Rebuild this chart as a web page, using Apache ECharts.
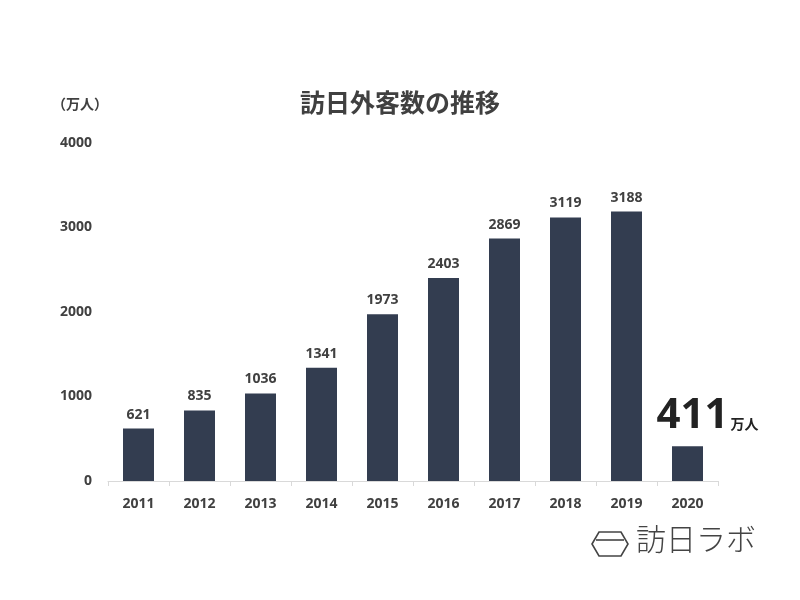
<!DOCTYPE html>
<html><head><meta charset="utf-8">
<script src="https://cdn.jsdelivr.net/npm/echarts@6/dist/echarts.min.js"></script>
<style>html,body{margin:0;background:#fff}#c{width:800px;height:600px}</style>
</head><body><div id="c"></div>
<script>
const categories = ['2011','2012','2013','2014','2015','2016','2017','2018','2019','2020'];
const values = [621,835,1036,1341,1973,2403,2869,3119,3188,411];
const yTicks = [0,1000,2000,3000,4000];
const F = '"Open Sans","Noto Sans CJK JP",sans-serif';
const chart = echarts.init(document.getElementById('c'));
chart.setOption({
  backgroundColor:'#fff',
  animation:false,
  title:{text:'訪日外客数の推移',left:'center',top:85,textStyle:{fontFamily:'"Noto Sans CJK JP"',fontSize:25,fontWeight:'bold',color:'#404040'}},
  grid:{left:108,right:82,top:143,bottom:119},
  xAxis:{type:'category',data:categories,
    axisLine:{lineStyle:{color:'#d9d9d9'}},axisTick:{show:true,lineStyle:{color:'#d9d9d9'}},
    axisLabel:{fontFamily:F,fontSize:14,fontWeight:'bold',color:'#404040',margin:16}},
  yAxis:{type:'value',min:yTicks[0],max:yTicks[yTicks.length-1],interval:1000,
    name:'（万人）',nameLocation:'end',nameGap:32,nameTextStyle:{fontFamily:'"Noto Sans CJK JP"',fontSize:14,fontWeight:'bold',color:'#404040',align:'right',padding:[0,0,0,0]},
    splitLine:{show:false},axisLine:{show:false},axisTick:{show:false},
    axisLabel:{formatter:v=>String(v),fontFamily:F,fontSize:14,fontWeight:'bold',color:'#404040',margin:16}},
  series:[{type:'bar',barWidth:31,itemStyle:{color:'#333d50'},
    data:values.map((v,i)=> i===values.length-1 ? {value:v,label:{
      formatter:'{a|'+v+'}{b|万人}',offset:[20,-2],
      rich:{a:{fontFamily:F,fontSize:42,fontWeight:'bold',color:'#222'},b:{fontFamily:'"Noto Sans CJK JP"',fontSize:14,fontWeight:'bold',color:'#222',padding:[14,0,0,2]}}}} : v),
    label:{show:true,position:'top',distance:7,fontFamily:F,fontSize:14,fontWeight:'bold',color:'#404040'}}],
  graphic:[
    {type:'polygon',shape:{points:[[592,544],[599,532],[621,532],[628,544],[621,556],[599,556]]},style:{fill:'none',stroke:'#444',lineWidth:1.6}},
    {type:'line',shape:{x1:596,y1:540,x2:624,y2:540},style:{stroke:'#444',lineWidth:1.6}},
    {type:'text',left:636,top:524,style:{text:'訪日ラボ',font:'300 30px "Noto Sans CJK JP"',fill:'#444'}}
  ]
});
</script></body></html>
